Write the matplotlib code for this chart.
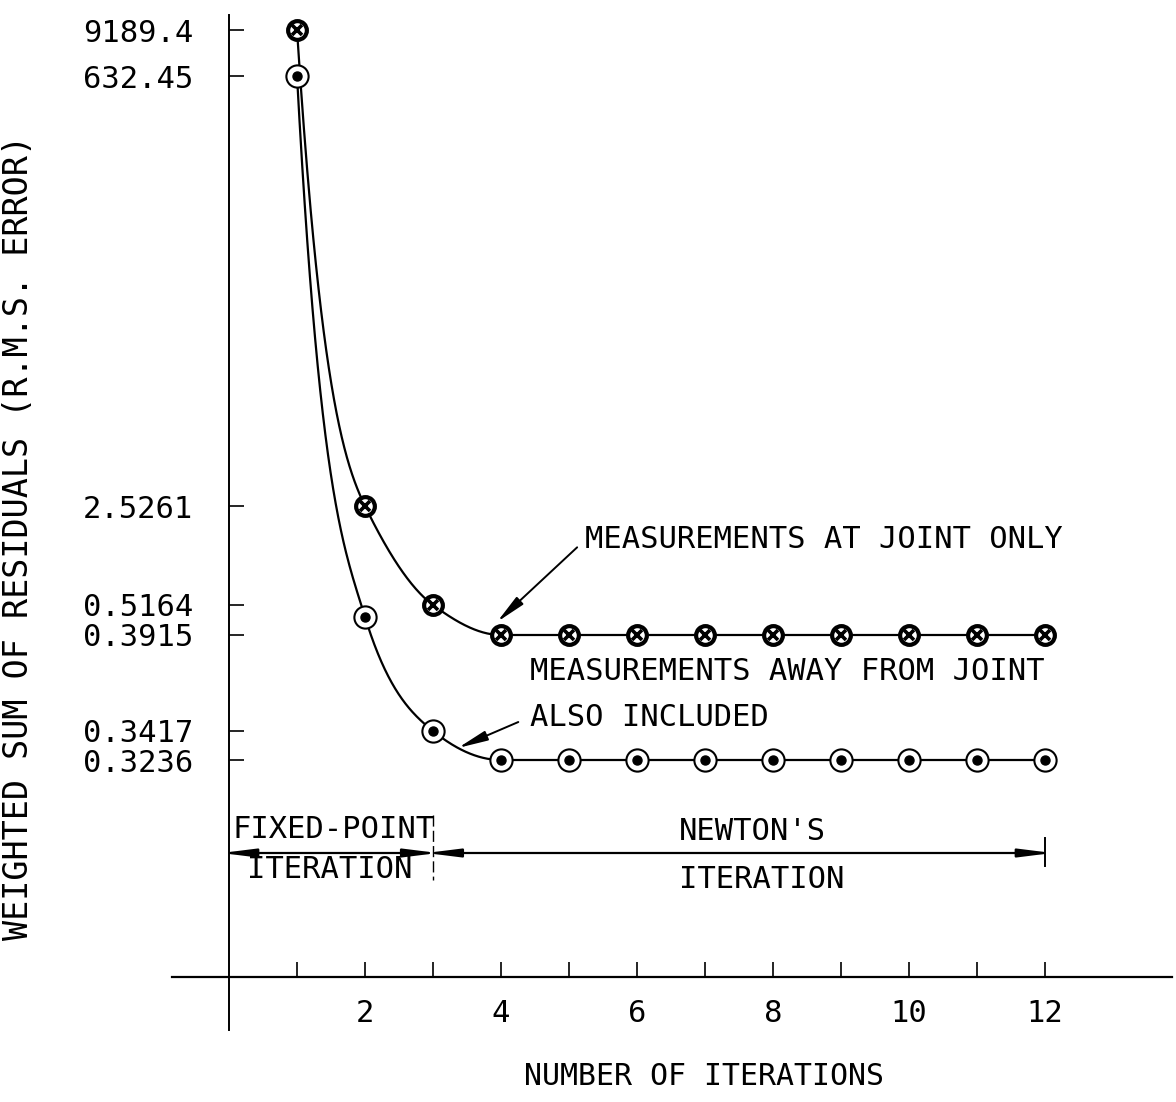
import numpy as np
import matplotlib
matplotlib.use("Agg")
import matplotlib.pyplot as plt

# values
iterations = np.arange(1, 13)
joint_only = [9189.4, 2.5261, 0.5164, 0.3915, 0.3915, 0.3915, 0.3915,
              0.3915, 0.3915, 0.3915, 0.3915, 0.3915]
away_included = [632.45, 0.4664, 0.3417, 0.3236, 0.3236, 0.3236, 0.3236,
                 0.3236, 0.3236, 0.3236, 0.3236, 0.3236]
ytick_values = [9189.4, 632.45, 2.5261, 0.5164, 0.3915, 0.3417, 0.3236]
ytick_labels = ["9189.4", "632.45", "2.5261", "0.5164", "0.3915", "0.3417", "0.3236"]
xtick_labels = ["", "2", "", "4", "", "6", "", "8", "", "10", "", "12"]

FONT = "DejaVu Sans Mono"
FS = 22
plt.rcParams["font.family"] = FONT

# the y axis of the original is not to scale: piecewise, pinned at the labelled values
scale_vals = np.array([-1.0, 0.0, 0.3236, 0.3417, 0.3915, 0.5164, 2.5261, 632.45, 9189.4, 20000.0])
scale_pos = np.array([0, 125, 342, 371, 467, 497, 596, 1026, 1072, 1102], dtype=float)


def fwd(v):
    return np.interp(np.asarray(v, dtype=float), scale_vals, scale_pos)


def inv(p):
    return np.interp(np.asarray(p, dtype=float), scale_pos, scale_vals)


def smooth(xs, ys, slopes, n=80):
    """hermite curve through the points, drawn in the axis' own position space"""
    p = fwd(ys)
    cx, cp = [], []
    for i in range(len(xs) - 1):
        t = np.linspace(0, 1, n)
        h = xs[i + 1] - xs[i]
        h00 = 2 * t**3 - 3 * t**2 + 1
        h10 = t**3 - 2 * t**2 + t
        h01 = -2 * t**3 + 3 * t**2
        h11 = t**3 - t**2
        cp.append(h00 * p[i] + h10 * h * slopes[i] + h01 * p[i + 1] + h11 * h * slopes[i + 1])
        cx.append(xs[i] + t * h)
    return np.concatenate(cx), inv(np.concatenate(cp))


fig = plt.figure(figsize=(11.76, 11.02), dpi=100)
ax = fig.add_axes([0, 0, 1, 1])
ax.set_yscale("function", functions=(fwd, inv))
ax.set_xlim(-229 / 68, (1176 - 229) / 68)
ax.set_ylim(-1, 20000)

# curves (tangents chosen to follow the hand drawn french curve)
tan_a = [-1050, -140, -50] + [0] * 9
tan_b = [-1250, -220, -55] + [0] * 9
xa, ya = smooth(iterations, joint_only, tan_a)
xb, yb = smooth(iterations, away_included, tan_b)
ax.plot(xa, ya, color="black", lw=1.6, zorder=2)
ax.plot(xb, yb, color="black", lw=1.6, zorder=2)

# markers
ax.plot(iterations, joint_only, "o", ms=13.5, mfc="white", mec="black", mew=3.0, zorder=3)
ax.plot(iterations, joint_only, "x", ms=7.5, mec="black", mew=2.6, zorder=4)
ax.plot(iterations, away_included, "o", ms=16, mfc="white", mec="black", mew=1.5, zorder=3)
ax.plot(iterations, away_included, "o", ms=6.5, mfc="black", mec="black", zorder=4)

# axes
for s in ["top", "right"]:
    ax.spines[s].set_visible(False)
ax.spines["left"].set_position(("data", 0))
ax.spines["bottom"].set_position(("data", 0))
ax.spines["bottom"].set_bounds(-0.84, 13.87)
ax.spines["left"].set_bounds(float(inv(72)), float(inv(1087)))
ax.spines["left"].set_linewidth(1.4)
ax.spines["bottom"].set_linewidth(1.6)

ax.set_xticks(iterations)
ax.set_xticklabels(xtick_labels)
ax.set_yticks(ytick_values)
ax.set_yticklabels(ytick_labels)
ax.yaxis.set_minor_locator(matplotlib.ticker.NullLocator())
ax.xaxis.set_minor_locator(matplotlib.ticker.NullLocator())
ax.tick_params(axis="x", direction="in", length=11, width=1.2, pad=16, labelsize=FS)
ax.tick_params(axis="y", direction="in", length=11, width=1.2, pad=26, labelsize=FS)

ax.set_xlabel("NUMBER OF ITERATIONS", fontsize=21.5)
ax.xaxis.set_label_coords(704 / 1176, (1102 - 1062) / 1102)
ax.set_ylabel("WEIGHTED SUM OF RESIDUALS (R.M.S. ERROR)", fontsize=24)
ax.yaxis.set_label_coords(35 / 1176, (1102 - 537) / 1102)

# labels with arrows
tr = ax.get_xaxis_transform()
head = "-|>,head_length=1.8,head_width=0.3"
ax.annotate("MEASUREMENTS AT JOINT ONLY",
            xy=((497 - 229) / 68, (1102 - 622) / 1102), xycoords=tr,
            xytext=((585 - 229) / 68, (1102 - 540) / 1102), textcoords=tr,
            ha="left", va="center", fontsize=FS,
            arrowprops=dict(arrowstyle=head, color="black", lw=1.4, mutation_scale=10,
                            relpos=(0, 0.5), shrinkA=5, shrinkB=0))
ax.text((530 - 229) / 68, (1102 - 672) / 1102, "MEASUREMENTS AWAY FROM JOINT",
        transform=tr, ha="left", va="center", fontsize=FS)
tip = np.argmin(np.abs(xb - 3.37))
ax.annotate("ALSO INCLUDED", xy=(xb[tip], yb[tip]), xycoords="data",
            xytext=((530 - 229) / 68, (1102 - 717) / 1102), textcoords=tr,
            ha="left", va="center", fontsize=FS,
            arrowprops=dict(arrowstyle=head, color="black", lw=1.4, mutation_scale=10,
                            relpos=(0, 0.5), shrinkA=7, shrinkB=0))

# fixed-point / newton brackets (ends nudged so the arrow tips meet the marks)
yb_ = (1102 - 853) / 1102
span = "<|-|>,head_length=2.0,head_width=0.25"
ax.annotate("", xy=(-0.11, yb_), xytext=(3.07, yb_), xycoords=tr, textcoords=tr,
            arrowprops=dict(arrowstyle=span, color="black", lw=1.6, mutation_scale=10,
                            shrinkA=0, shrinkB=0))
ax.annotate("", xy=(2.9, yb_), xytext=(12.11, yb_), xycoords=tr, textcoords=tr,
            arrowprops=dict(arrowstyle=span, color="black", lw=1.6, mutation_scale=10,
                            shrinkA=0, shrinkB=0))
ax.plot([3, 3], [(1102 - 815) / 1102, (1102 - 880) / 1102], transform=tr,
        color="black", lw=1.0, ls=(0, (8, 3)))
ax.plot([12, 12], [(1102 - 838) / 1102, (1102 - 866) / 1102], transform=tr,
        color="black", lw=1.4)
ax.text((233 - 229) / 68, (1102 - 830) / 1102, "FIXED-POINT", transform=tr,
        ha="left", va="center", fontsize=FS)
ax.text((247 - 229) / 68, (1102 - 870) / 1102, "ITERATION", transform=tr,
        ha="left", va="center", fontsize=FS)
ax.text((752 - 229) / 68, (1102 - 832) / 1102, "NEWTON'S", transform=tr,
        ha="center", va="center", fontsize=FS)
ax.text((762 - 229) / 68, (1102 - 879) / 1102, "ITERATION", transform=tr,
        ha="center", va="center", fontsize=FS)

fig.savefig("out.png", dpi=100)
plt.close(fig)
